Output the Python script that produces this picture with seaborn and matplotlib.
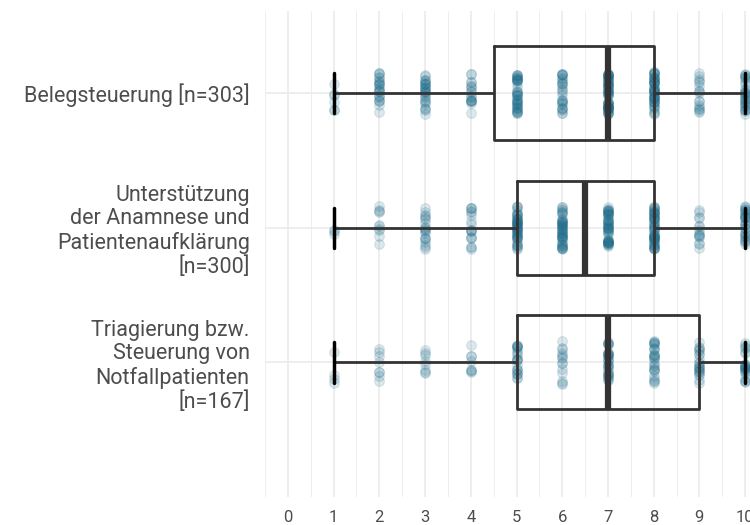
import numpy as np
import pandas as pd
import seaborn as sns
import matplotlib.pyplot as plt
from matplotlib.ticker import MultipleLocator

# categories (top to bottom) and how many answers per score 1..10
categories = [
    "Belegsteuerung [n=303]",
    "Unterstützung\nder Anamnese und\nPatientenaufklärung\n[n=300]",
    "Triagierung bzw.\nSteuerung von\nNotfallpatienten\n[n=167]",
]
scores = [1, 2, 3, 4, 5, 6, 7, 8, 9, 10]
counts_beleg = [6, 24, 28, 18, 42, 28, 60, 50, 17, 30]
counts_anamnese = [3, 10, 20, 18, 50, 49, 50, 55, 15, 30]
counts_triage = [4, 8, 8, 8, 22, 14, 30, 28, 22, 23]
x_ticks = [0, 1, 2, 3, 4, 5, 6, 7, 8, 9, 10]

rows = []
for cat, cnts in zip(categories, [counts_beleg, counts_anamnese, counts_triage]):
    vals = np.repeat(scores, cnts)
    rows.append(pd.DataFrame({"kategorie": cat, "wert": vals}))
df = pd.concat(rows, ignore_index=True)

sns.set_theme(style="white")
plt.rcParams['font.family'] = ['Roboto', 'DejaVu Sans']

fig = plt.figure(figsize=(7.5, 5.25), dpi=100)
ax = fig.add_axes([265 / 750, 28 / 525, 503 / 750, 486 / 525])

np.random.seed(3)
sns.stripplot(data=df, x="wert", y="kategorie", order=categories, orient="h",
              jitter=0.16, size=7, color="#1d6b8a", alpha=0.15,
              linewidth=0.8, edgecolor="#1d6b8a", ax=ax, zorder=2)

sns.boxplot(data=df, x="wert", y="kategorie", order=categories, orient="h",
            color="#333333", fill=False, width=0.7, showfliers=False,
            linecolor="#333333", linewidth=2,
            boxprops=dict(color="#333333", linewidth=2),
            medianprops=dict(color="#333333", linewidth=4.5),
            whiskerprops=dict(color="#333333", linewidth=2),
            capprops=dict(color="black", linewidth=2.5),
            capwidths=0.3, ax=ax)

ax.set_xlim(-0.5, 10.5)
ax.set_ylim(3.0, -0.61)
ax.set_xticks(x_ticks)
ax.xaxis.set_minor_locator(MultipleLocator(0.5))
ax.grid(True, which="major", color="#ebebeb", linewidth=1.2, zorder=0)
ax.grid(True, which="minor", axis="x", color="#ebebeb", linewidth=0.6, zorder=0)
ax.set_axisbelow(True)
for s in ax.spines.values():
    s.set_visible(False)
ax.tick_params(axis="x", length=0, pad=9, labelsize=12, labelcolor="#4d4d4d")
ax.tick_params(axis="y", length=0, pad=11, labelsize=15.5, labelcolor="#4d4d4d")
for lbl in ax.get_yticklabels():
    lbl.set_linespacing(1.15)
ax.set_xlabel("")
ax.set_ylabel("")

fig.savefig("out.png", dpi=100)
